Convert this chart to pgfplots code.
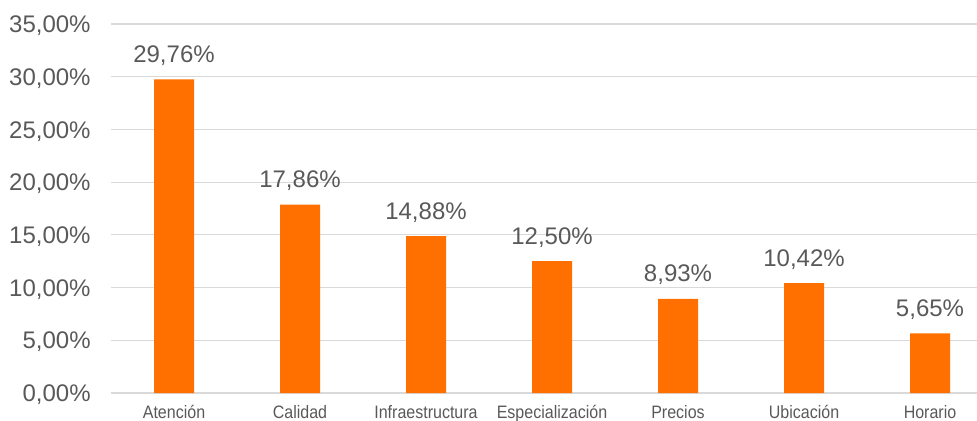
\documentclass[border=0pt]{standalone}
\usepackage{pgfplots}
\pgfplotsset{compat=1.18}
\usepackage{graphicx}
\usepackage{fontspec}
\setmainfont{Liberation Sans}
\definecolor{barorange}{RGB}{255,112,0}
\definecolor{txtgray}{RGB}{89,89,89}
\definecolor{gridgray}{RGB}{217,217,217}
\newcommand\sx[1]{\scalebox{0.89}[1]{#1}}
\begin{document}
\begin{tikzpicture}
\useasboundingbox (-55.5pt,-13.5pt) rectangle (433pt,196.5pt);
\clip (-55.5pt,-13.5pt) rectangle (433pt,196.5pt);
\begin{axis}[
  at={(0,0)}, anchor=south west,
  scale only axis,
  width=433pt, height=184.5pt,
  xmin=-0.5, xmax=6.373,
  ymin=0, ymax=35,
  axis line style={draw=none},
  major tick length=0pt,
  ytick={0,5,...,35},
  yticklabels={{0,00\%},{5,00\%},{10,00\%},{15,00\%},{20,00\%},{25,00\%},{30,00\%},{35,00\%}},
  yticklabel style={font=\fontsize{12}{14}\selectfont, text=txtgray, anchor=base east, inner sep=0pt, xshift=-10pt, yshift=-4.3pt},
  xtick={0,...,6},
  xticklabels={\sx{Atención},\sx{Calidad},\sx{Infraestructura},\sx{Especialización},\sx{Precios},\sx{Ubicación},\sx{Horario}},
  xticklabel style={font=\fontsize{9}{10}\selectfont, text=txtgray, anchor=base, inner sep=0pt, yshift=-12.6pt},
  ymajorgrids,
  grid style={gridgray, line width=0.6pt},
  nodes near coords={\pgfmathprintnumber{\pgfplotspointmeta}\%},
  nodes near coords style={font=\fontsize{12}{14}\selectfont, text=txtgray, anchor=base, inner sep=0pt, yshift=8.5pt,
    /pgf/number format/.cd, fixed, fixed zerofill, precision=2, use comma, assume math mode=true},
]
\addplot[ybar, bar width=20pt, fill=barorange, draw=none] coordinates {
  (0,29.76) (1,17.86) (2,14.88) (3,12.50) (4,8.93) (5,10.42) (6,5.65)
};
\end{axis}
\end{tikzpicture}
\end{document}
